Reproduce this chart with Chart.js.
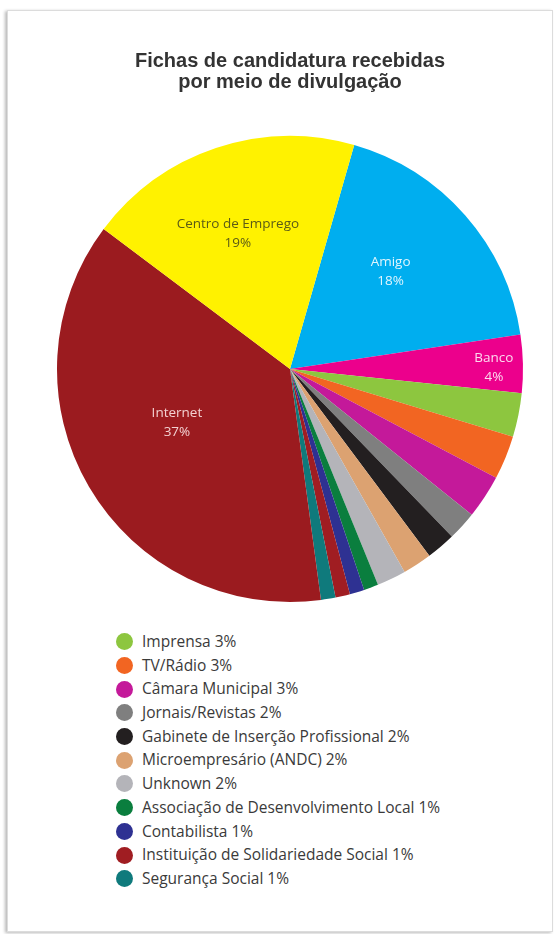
<!DOCTYPE html>
<html>
<head>
<meta charset="utf-8">
<script src="https://cdn.jsdelivr.net/npm/chart.js@4.4.0/dist/chart.umd.min.js"></script>
<style>
  html, body { margin: 0; padding: 0; background: #fff; }
  body { width: 559px; height: 934px; position: relative; overflow: hidden; }
  .card {
    position: absolute; left: 7px; top: 10px; width: 544px; height: 920px;
    border: 1px solid #dcdcdc; box-shadow: -2px 1px 3px rgba(0,0,0,0.28); background: #fff;
  }
  #wrap { position: absolute; left: 0; top: 0; width: 559px; height: 620px; }
  #legend {
    position: absolute; left: 116px; top: 630px; margin: 0; padding: 0; list-style: none;
    font-family: "Open Sans", sans-serif; font-size: 15.5px; color: #3a3a3a;
  }
  #legend li { height: 23.7px; line-height: 23.7px; display: flex; align-items: center; white-space: nowrap; }
  #legend .dot { width: 17px; height: 17px; border-radius: 50%; margin-right: 9px; flex: none; }
</style>
</head>
<body>
<div class="card"></div>
<div id="wrap"><canvas id="chart"></canvas></div>
<ul id="legend"></ul>
<script>
// categories, clockwise from the top
const categories = [
  'Amigo', 'Banco', 'Imprensa', 'TV/Rádio', 'Câmara Municipal', 'Jornais/Revistas',
  'Gabinete de Inserção Profissional', 'Microempresário (ANDC)', 'Unknown',
  'Associação de Desenvolvimento Local', 'Contabilista', 'Instituição de Solidariedade Social',
  'Segurança Social', 'Internet', 'Centro de Emprego'
];
const percents = [18, 4, 3, 3, 3, 2, 2, 2, 2, 1, 1, 1, 1, 37, 19];
const colors = [
  '#00AEEF', '#EC008C', '#8DC63F', '#F26522', '#C4199A', '#7F7F7F',
  '#231F20', '#DCA271', '#B4B4B9', '#0A7E3E', '#2E3192', '#A01D22',
  '#0F7A7C', '#9B1B1F', '#FFF200'
];
const titleLines = ['Fichas de candidatura recebidas', 'por meio de divulgação'];

// slices this big get their label written inside, the rest go in the legend
const insideMin = 4;
// where the inside labels sit: angle shift (deg) from the slice middle, radius fraction
const inside = {
  'Centro de Emprego': { shift: -2.5, r: 0.623, color: '#5b5b16' },
  'Amigo': { shift: -2.7, r: 0.60, color: 'rgba(255,255,255,0.88)' },
  'Banco': { shift: 0.9, r: 0.875, color: 'rgba(255,255,255,0.85)' },
  'Internet': { shift: 5, r: 0.537, color: 'rgba(255,235,235,0.88)' }
};

const sliceLabels = {
  id: 'sliceLabels',
  afterDatasetsDraw(chart) {
    const ctx = chart.ctx;
    const meta = chart.getDatasetMeta(0);
    ctx.save();
    ctx.font = '13.5px "Open Sans", sans-serif';
    ctx.textAlign = 'center';
    ctx.textBaseline = 'middle';
    meta.data.forEach((arc, i) => {
      if (percents[i] < insideMin) return;
      const p = inside[categories[i]] || { shift: 0, r: 0.6, color: '#fff' };
      const a = (arc.startAngle + arc.endAngle) / 2 + p.shift * Math.PI / 180;
      const x = arc.x + Math.cos(a) * arc.outerRadius * p.r;
      const y = arc.y + Math.sin(a) * arc.outerRadius * p.r;
      ctx.fillStyle = p.color;
      ctx.fillText(categories[i], x, y - 9.5);
      ctx.fillText(percents[i] + '%', x, y + 9.5);
    });
    ctx.restore();
  }
};

const chart = new Chart(document.getElementById('chart'), {
  type: 'pie',
  data: {
    labels: categories,
    datasets: [{ data: percents, backgroundColor: colors, borderWidth: 0 }]
  },
  options: {
    responsive: true,
    maintainAspectRatio: false,
    animation: false,
    rotation: 16,
    layout: { padding: { top: 51, bottom: 18, left: 57, right: 36 } },
    plugins: {
      legend: { display: false },
      tooltip: { enabled: false },
      title: {
        display: true,
        text: titleLines,
        color: '#333',
        font: { family: '"Liberation Sans", Arial, sans-serif', size: 20, weight: 'bold', lineHeight: 1.05 },
        padding: { top: 0, bottom: 43 }
      }
    }
  },
  plugins: [sliceLabels]
});

// legend for the small slices
const legend = document.getElementById('legend');
categories.forEach((name, i) => {
  if (percents[i] >= insideMin) return;
  const li = document.createElement('li');
  const dot = document.createElement('span');
  dot.className = 'dot';
  dot.style.background = colors[i];
  li.appendChild(dot);
  li.appendChild(document.createTextNode(name + ' ' + percents[i] + '%'));
  legend.appendChild(li);
});
</script>
</body>
</html>
